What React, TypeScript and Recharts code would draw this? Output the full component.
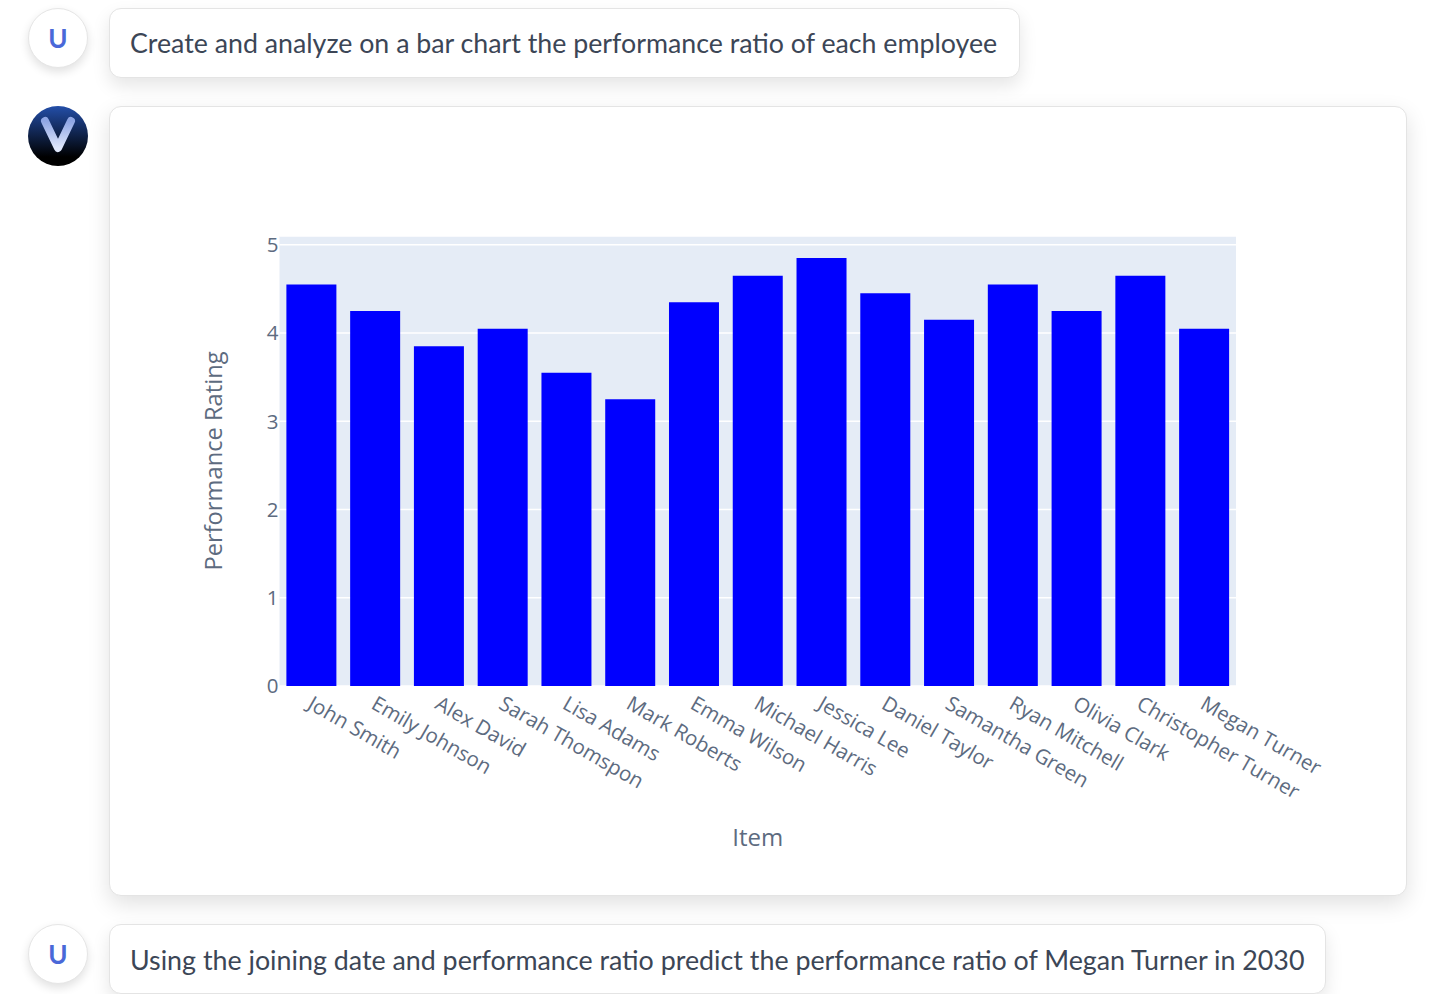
import React from "react";
import { BarChart, Bar, XAxis, YAxis, CartesianGrid } from "recharts";

const employees = ["John Smith","Emily Johnson","Alex David","Sarah Thomspon","Lisa Adams","Mark Roberts","Emma Wilson","Michael Harris","Jessica Lee","Daniel Taylor","Samantha Green","Ryan Mitchell","Olivia Clark","Christopher Turner","Megan Turner"];
const ratings = [4.55,4.25,3.85,4.05,3.55,3.25,4.35,4.65,4.85,4.45,4.15,4.55,4.25,4.65,4.05];
const yTicks = [0,1,2,3,4,5];
const rows = employees.map((name, i) => ({ name, rating: ratings[i] }));

const axisFont = "'Open Sans', sans-serif";
const uiFont = "Lato, sans-serif";
const axisColor = "#5d6b80";

const bubble: React.CSSProperties = {
  position: "absolute", left: 109, boxSizing: "border-box", background: "#fff",
  border: "1px solid #e4e4e4", borderRadius: 12, boxShadow: "0 8px 18px rgba(0,0,0,0.10)",
  fontFamily: uiFont, fontSize: 26.75, color: "#3c4656", paddingLeft: 21, whiteSpace: "nowrap",
};

const circle: React.CSSProperties = {
  position: "absolute", left: 28, width: 60, height: 60, borderRadius: 30, boxSizing: "border-box",
  display: "flex", alignItems: "center", justifyContent: "center", fontFamily: uiFont,
};

function UserAvatar({ top }: { top: number }) {
  return (
    <div style={{ ...circle, top, background: "#fff", border: "1px solid #e6e6e6", boxShadow: "0 4px 10px rgba(0,0,0,0.12)", color: "#4a68d8", fontWeight: 700, fontSize: 26 }}>U</div>
  );
}

function BotAvatar() {
  return (
    <div style={{ ...circle, top: 106, background: "linear-gradient(#234ea8, #000 85%)" }}>
      <svg width={60} height={60} style={{ position: "absolute", left: 0, top: 0 }}>
        <defs>
          <linearGradient id="vGlyph" x1="0" y1="0" x2="0" y2="1">
            <stop offset="0%" stopColor="#8fa6e4" />
            <stop offset="100%" stopColor="#dfe7fb" />
          </linearGradient>
        </defs>
        <path d="M 17 15 L 30 42 L 43 15" fill="none" stroke="url(#vGlyph)" strokeWidth={8} strokeLinecap="round" strokeLinejoin="round" />
      </svg>
    </div>
  );
}

function SlantedTick({ x, y, payload }: any) {
  return (
    <text x={x} y={y} transform={`rotate(30 ${x} ${y})`} textAnchor="start" dx={2.5} dy={14.5}
      fontFamily={axisFont} fontSize={20.5} fill={axisColor}>{payload.value}</text>
  );
}

export default function App() {
  return (
    <div style={{ position: "fixed", left: 0, top: 0, width: 1429, height: 994, overflow: "hidden", background: "#fff" }}>
      <UserAvatar top={8} />
      <div style={{ ...bubble, top: 8, width: 911, height: 70, lineHeight: "69px", paddingLeft: 20 }}>Create and analyze on a bar chart the performance ratio of each employee</div>
      <BotAvatar />
      <div style={{ ...bubble, top: 106, width: 1298, height: 790, paddingLeft: 0, boxShadow: "0 8px 22px rgba(0,0,0,0.12)" }}>
        <div style={{ position: "absolute", left: 0, top: 0 }}>
          <BarChart width={1296} height={788} data={rows} margin={{ top: 129, right: 170, bottom: 0, left: 0 }} barCategoryGap="10.8%">
            <CartesianGrid vertical={false} stroke="#ffffff" strokeWidth={1.5} fill="#e5ecf6" />
            <XAxis dataKey="name" interval={0} height={209} axisLine={false} tickLine={false} tick={<SlantedTick />}
              label={{ value: "Item", position: "insideTop", offset: 143, fontFamily: axisFont, fontSize: 24, fill: axisColor }} />
            <YAxis width={169.5} domain={[0, 5.1]} ticks={yTicks} allowDataOverflow axisLine={false} tickLine={false} tickSize={1}
              tick={{ fontFamily: axisFont, fontSize: 20.5, fill: axisColor }} tickMargin={0}
              label={{ value: "Performance Rating", angle: -90, position: "insideLeft", offset: 104, fontFamily: axisFont, fontSize: 23.7, fill: axisColor, style: { textAnchor: "middle" } }} />
            <Bar dataKey="rating" fill="#0000ff" isAnimationActive={false} />
          </BarChart>
        </div>
      </div>
      <UserAvatar top={924} />
      <div style={{ ...bubble, top: 924, width: 1217, height: 70, lineHeight: "70px", paddingLeft: 20, fontSize: 26.82 }}>Using the joining date and performance ratio predict the performance ratio of Megan Turner in 2030</div>
    </div>
  );
}
